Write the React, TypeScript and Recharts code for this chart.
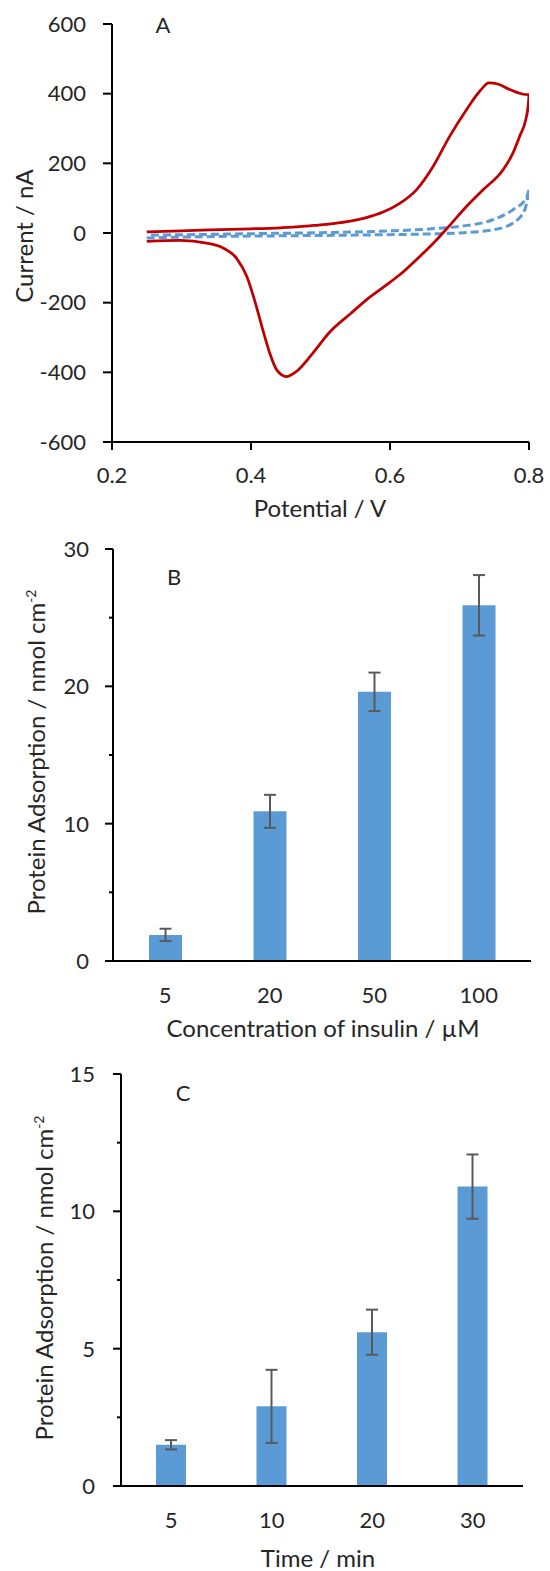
import React from 'react';
import { LineChart, Line, XAxis, YAxis, BarChart, Bar, ErrorBar } from 'recharts';

/* ── Panel A: cyclic voltammograms ─────────────────────────────── */
const potentialTicks = [0.2, 0.4, 0.6, 0.8];
const currentTicks = [-600, -400, -200, 0, 200, 400, 600];

// solid red, forward scan (0.25 -> 0.8 V)
const redForwardPotential = [
  0.25, 0.3, 0.341, 0.4, 0.442, 0.47, 0.493, 0.518, 0.543, 0.566, 0.59, 0.614, 0.638, 0.662, 0.686,
  0.71, 0.73, 0.742, 0.756, 0.772, 0.79, 0.8,
];
const redForwardCurrent = [
  3, 6, 9, 12, 15, 18, 22, 27, 34, 44, 60, 85, 124, 191, 278,
  354, 409, 431, 427, 412, 399, 397,
];
// solid red, reverse scan (0.8 -> 0.25 V)
const redReversePotential = [
  0.8, 0.799, 0.795, 0.787, 0.777, 0.763, 0.734, 0.71, 0.686, 0.662, 0.644, 0.614, 0.593, 0.566, 0.543,
  0.513, 0.489, 0.465, 0.451, 0.437, 0.427, 0.417, 0.405, 0.394, 0.379, 0.36, 0.336, 0.298, 0.25,
];
const redReverseCurrent = [
  397, 370, 323, 280, 230, 182, 124, 76, 22, -30, -65, -120, -152, -192, -232,
  -285, -345, -398, -412, -393, -345, -278, -192, -125, -72, -43, -29, -21, -24,
];

// dashed blue (blank electrode), forward and reverse
const blueForwardPotential = [0.25, 0.35, 0.45, 0.55, 0.65, 0.7, 0.748, 0.777, 0.794, 0.8];
const blueForwardCurrent = [-14, -10, -8, -6, -3, 0, 9, 29, 67, 124];
const blueReversePotential = [0.8, 0.796, 0.777, 0.748, 0.7, 0.66, 0.6, 0.5, 0.4, 0.3, 0.25];
const blueReverseCurrent = [124, 100, 67, 38, 19, 12, 6, 1, -2, -5, -6];

/* ── Panel B: adsorption vs insulin concentration ─────────────── */
const concentrationLabels = ['5', '20', '50', '100'];
const concentrationAdsorption = [1.9, 10.9, 19.6, 25.9];
const concentrationError = [0.45, 1.2, 1.4, 2.2];
const adsorptionTicksB = [0, 5, 10, 15, 20, 25, 30];

/* ── Panel C: adsorption vs time ──────────────────────────────── */
const timeLabels = ['5', '10', '20', '30'];
const timeAdsorption = [1.5, 2.9, 5.6, 10.9];
const timeError = [0.17, 1.33, 0.82, 1.17];
const adsorptionTicksC = [0, 2.5, 5, 7.5, 10, 12.5, 15];

const toPoints = (potential: number[], current: number[]) =>
  potential.map((p, i) => ({ potential: p, current: current[i] }));

const redForward = toPoints(redForwardPotential, redForwardCurrent);
const redReverse = toPoints(redReversePotential, redReverseCurrent);
const blueForward = toPoints(blueForwardPotential, blueForwardCurrent);
const blueReverse = toPoints(blueReversePotential, blueReverseCurrent);

const concentrationData = concentrationLabels.map((label, i) => ({
  label,
  value: concentrationAdsorption[i],
  err: concentrationError[i],
}));
const timeData = timeLabels.map((label, i) => ({
  label,
  value: timeAdsorption[i],
  err: timeError[i],
}));

const FONT = "Lato, 'Open Sans', sans-serif";
const TEXT = '#262626';
const RED = '#C00000';
const BLUE = '#5B9BD5';
const tickStyle = { fontFamily: FONT, fontSize: 22, fill: TEXT };
const axisLine = { stroke: '#000', strokeWidth: 2 };

// y tick with short minor ticks between labelled major ticks
const makeTick = (majorEvery: number, gap: number) => (props: any) => {
  const { x, y, payload } = props;
  const v = payload.value as number;
  const isMajor = Math.abs(v / majorEvery - Math.round(v / majorEvery)) < 1e-6;
  const axisX = x + gap;
  return (
    <g>
      <line x1={axisX - (isMajor ? 8 : 4)} x2={axisX} y1={y} y2={y} stroke="#000" strokeWidth={2} />
      {isMajor && (
        <text x={x} y={y} dy="0.36em" textAnchor="end" style={tickStyle as any}>
          {v}
        </text>
      )}
    </g>
  );
};

const Label: React.FC<{ x: number; y: number; rotate?: boolean; size?: number; children: React.ReactNode }> = ({
  x,
  y,
  rotate,
  size = 24,
  children,
}) => (
  <div
    style={{
      position: 'absolute',
      left: x,
      top: y,
      transform: `translate(-50%, -50%)${rotate ? ' rotate(-90deg)' : ''}`,
      whiteSpace: 'nowrap',
      fontFamily: FONT,
      fontSize: size,
      color: TEXT,
      lineHeight: 1,
    }}
  >
    {children}
  </div>
);

const AdsorptionTitle = () => (
  <>
    Protein Adsorption / nmol cm<sup style={{ fontSize: 14, verticalAlign: 'top', lineHeight: 1 }}>-2</sup>
  </>
);

const cvLine = (data: { potential: number; current: number }[], color: string, dashed: boolean) => (
  <Line
    data={data}
    dataKey="current"
    type="monotoneX"
    stroke={color}
    strokeWidth={dashed ? 3 : 2.75}
    strokeDasharray={dashed ? '8 4' : undefined}
    dot={false}
    activeDot={false}
    isAnimationActive={false}
  />
);

export default function App() {
  return (
    <div style={{ position: 'absolute', left: 0, top: 0, width: 550, height: 1571, background: '#fff' }}>
      {/* Panel A */}
      <div style={{ position: 'absolute', left: 0, top: 0 }}>
        <LineChart width={550} height={500} margin={{ top: 24, right: 21, bottom: 18, left: 0 }}>
          <XAxis
            type="number"
            dataKey="potential"
            domain={[0.2, 0.8]}
            ticks={potentialTicks}
            allowDataOverflow
            height={40}
            tick={tickStyle}
            tickFormatter={(v: number) => v.toFixed(1)}
            axisLine={axisLine}
            tickLine={axisLine}
            tickSize={8}
            tickMargin={17}
          />
          <YAxis
            type="number"
            dataKey="current"
            domain={[-600, 600]}
            ticks={currentTicks}
            width={112}
            tick={tickStyle}
            axisLine={axisLine}
            tickLine={axisLine}
            tickSize={9}
            tickMargin={17}
          />
          {cvLine(blueForward, BLUE, true)}
          {cvLine(blueReverse, BLUE, true)}
          {cvLine(redForward, RED, false)}
          {cvLine(redReverse, RED, false)}
        </LineChart>
      </div>
      <Label x={163} y={25} size={22}>A</Label>
      <Label x={320} y={508}>Potential / V</Label>
      <Label x={24} y={236} rotate>Current / nA</Label>

      {/* Panel B */}
      <div style={{ position: 'absolute', left: 0, top: 520 }}>
        <BarChart width={550} height={500} data={concentrationData} margin={{ top: 29, right: 19, bottom: 19, left: 0 }}>
          <XAxis
            dataKey="label"
            height={40}
            tick={tickStyle}
            axisLine={axisLine}
            tickLine={false}
            tickSize={0}
            tickMargin={26}
          />
          <YAxis
            type="number"
            domain={[0, 30]}
            ticks={adsorptionTicksB}
            width={113}
            axisLine={axisLine}
            tickLine={false}
            tickSize={0}
            tickMargin={24}
            tick={makeTick(10, 24)}
          />
          <Bar dataKey="value" fill={BLUE} barSize={33} isAnimationActive={false}>
            <ErrorBar dataKey="err" width={6} stroke="#595959" strokeWidth={2} direction="y" />
          </Bar>
        </BarChart>
      </div>
      <Label x={174} y={577} size={22}>B</Label>
      <Label x={323} y={1028}>Concentration of insulin / µM</Label>
      <Label x={36} y={752} rotate>
        <AdsorptionTitle />
      </Label>

      {/* Panel C */}
      <div style={{ position: 'absolute', left: 0, top: 1045 }}>
        <BarChart width={550} height={500} data={timeData} margin={{ top: 29, right: 27, bottom: 19, left: 0 }}>
          <XAxis
            dataKey="label"
            height={40}
            tick={tickStyle}
            axisLine={axisLine}
            tickLine={false}
            tickSize={0}
            tickMargin={26}
          />
          <YAxis
            type="number"
            domain={[0, 15]}
            ticks={adsorptionTicksC}
            width={121}
            axisLine={axisLine}
            tickLine={false}
            tickSize={0}
            tickMargin={26}
            tick={makeTick(5, 26)}
          />
          <Bar dataKey="value" fill={BLUE} barSize={30} isAnimationActive={false}>
            <ErrorBar dataKey="err" width={6} stroke="#595959" strokeWidth={2} direction="y" />
          </Bar>
        </BarChart>
      </div>
      <Label x={183} y={1093} size={22}>C</Label>
      <Label x={318} y={1558}>Time / min</Label>
      <Label x={44} y={1278} rotate>
        <AdsorptionTitle />
      </Label>
    </div>
  );
}
